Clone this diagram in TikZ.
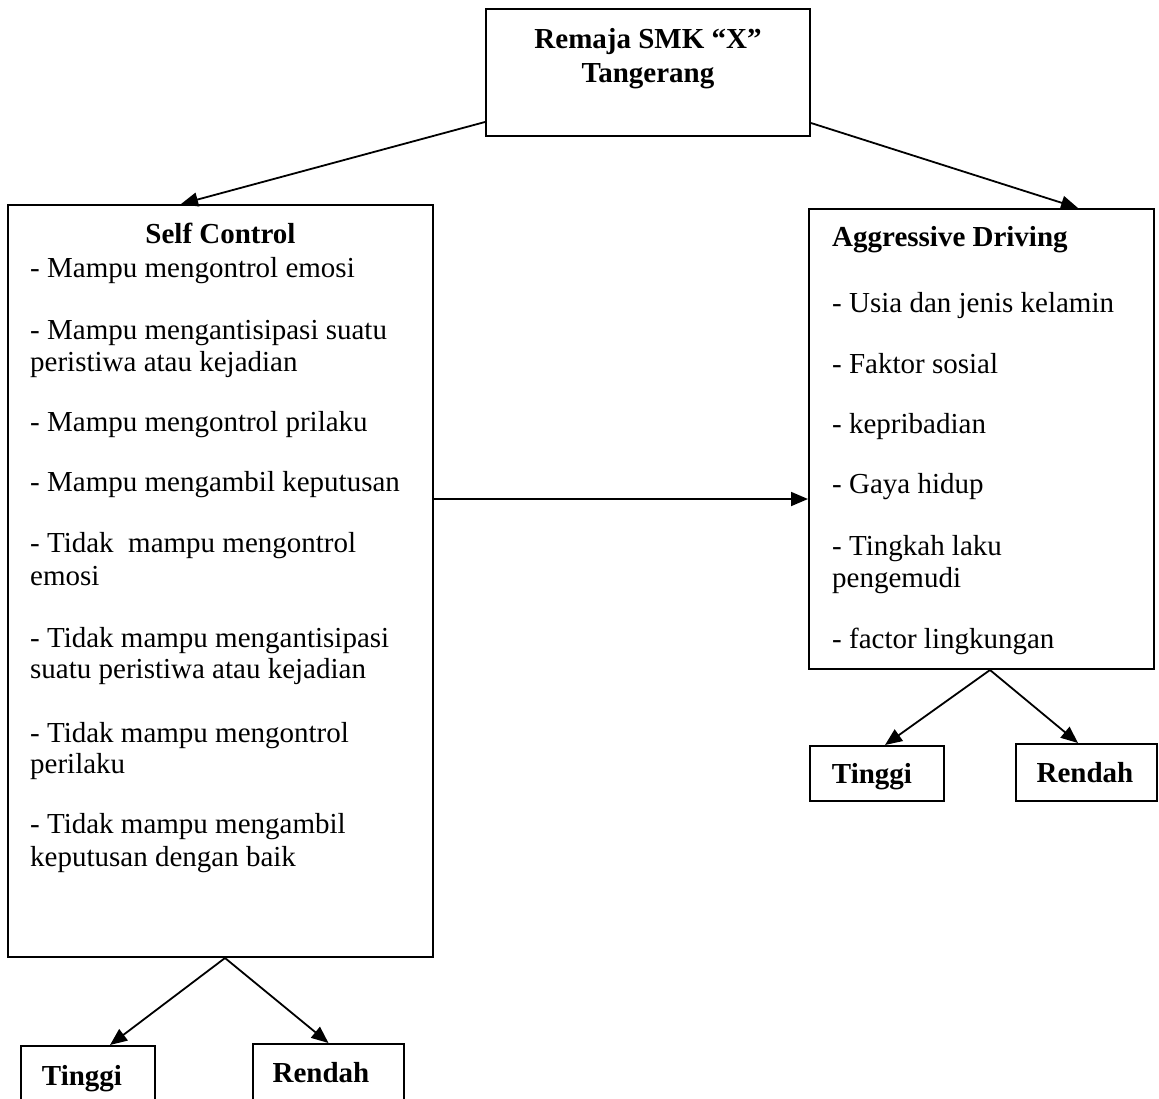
\documentclass[tikz,border=0pt]{standalone}
\usepackage{fontspec}
\setmainfont{Liberation Serif}
\usetikzlibrary{arrows.meta}
\begin{document}
\begin{tikzpicture}[x=1pt,y=-1pt,
  box/.style={draw,line width=2pt,inner sep=0pt,rectangle},
  conn/.style={line width=1.8pt,-{Triangle[length=17pt,width=14pt]}},
  txt/.style={font=\fontsize{29}{32}\selectfont,inner sep=0pt,anchor=base west},
  btxt/.style={font=\fontsize{29}{32}\selectfont\bfseries,inner sep=0pt,anchor=base},
]
\useasboundingbox (0,0) rectangle (1159,1098);

% boxes
\node[box,minimum width=324pt,minimum height=127pt] (top) at (648,72.5) {};
\node[box,minimum width=425pt,minimum height=752pt] (sc) at (220.5,581) {};
\node[box,minimum width=345pt,minimum height=460pt] (ad) at (981.5,439) {};
\node[box,minimum width=134pt,minimum height=54pt] (t1) at (88,1073) {};
\node[box,minimum width=151pt,minimum height=56pt] (r1) at (328.5,1072) {};
\node[box,minimum width=134pt,minimum height=55pt] (t2) at (877,773.5) {};
\node[box,minimum width=141pt,minimum height=57pt] (r2) at (1086.5,772.5) {};

% top text
\node[btxt] (top1) at (648,48) {Remaja SMK “X”};
\node[btxt] (top2) at (648,82) {Tangerang};

% self control text
\node[btxt] (sct) at (220.5,243) {Self Control};
\node[txt] (sc1) at (30,277) {- Mampu mengontrol emosi};
\node[txt] (sc2) at (30,339) {- Mampu mengantisipasi suatu};
\node[txt] (sc3) at (30,371) {peristiwa atau kejadian};
\node[txt] (sc4) at (30,431) {- Mampu mengontrol prilaku};
\node[txt] (sc5) at (30,491) {- Mampu mengambil keputusan};
\node[txt] (sc6) at (30,552) {- Tidak\ \ mampu mengontrol};
\node[txt] (sc7) at (30,585) {emosi};
\node[txt] (sc8) at (30,647) {- Tidak mampu mengantisipasi};
\node[txt] (sc9) at (30,678) {suatu peristiwa atau kejadian};
\node[txt] (sc10) at (30,742) {- Tidak mampu mengontrol};
\node[txt] (sc11) at (30,773) {perilaku};
\node[txt] (sc12) at (30,833) {- Tidak mampu mengambil};
\node[txt] (sc13) at (30,866) {keputusan dengan baik};

% aggressive driving text
\node[btxt,anchor=base west] (adt) at (832,246) {Aggressive Driving};
\node[txt] (ad1) at (832,312) {- Usia dan jenis kelamin};
\node[txt] (ad2) at (832,373) {- Faktor sosial};
\node[txt] (ad3) at (832,433) {- kepribadian};
\node[txt] (ad4) at (832,493) {- Gaya hidup};
\node[txt] (ad5) at (832,555) {- Tingkah laku};
\node[txt] (ad6) at (832,587) {pengemudi};
\node[txt] (ad7) at (832,648) {- factor lingkungan};

% bottom labels
\node[btxt] (t1t) at (82,1085) {Tinggi};
\node[btxt] (r1t) at (321,1082) {Rendah};
\node[btxt] (t2t) at (872,783) {Tinggi};
\node[btxt] (r2t) at (1085,782) {Rendah};

% connectors
\draw[conn] ([yshift=15pt]top.south west) -- ([xshift=174pt]sc.north west);
\draw[conn] ([yshift=14pt]top.south east) -- ([xshift=-77pt]ad.north east);
\draw[conn] ([yshift=82pt]sc.east) coordinate (h) -- (h -| ad.west);
\draw[conn] ([xshift=4.5pt]sc.south) -- ([xshift=22pt]t1.north);
\draw[conn] ([xshift=4.5pt]sc.south) -- (r1.north);
\draw[conn] ([xshift=8.5pt]ad.south) -- ([xshift=8pt]t2.north);
\draw[conn] ([xshift=8.5pt]ad.south) -- ([xshift=-8.5pt]r2.north);
\end{tikzpicture}
\end{document}
